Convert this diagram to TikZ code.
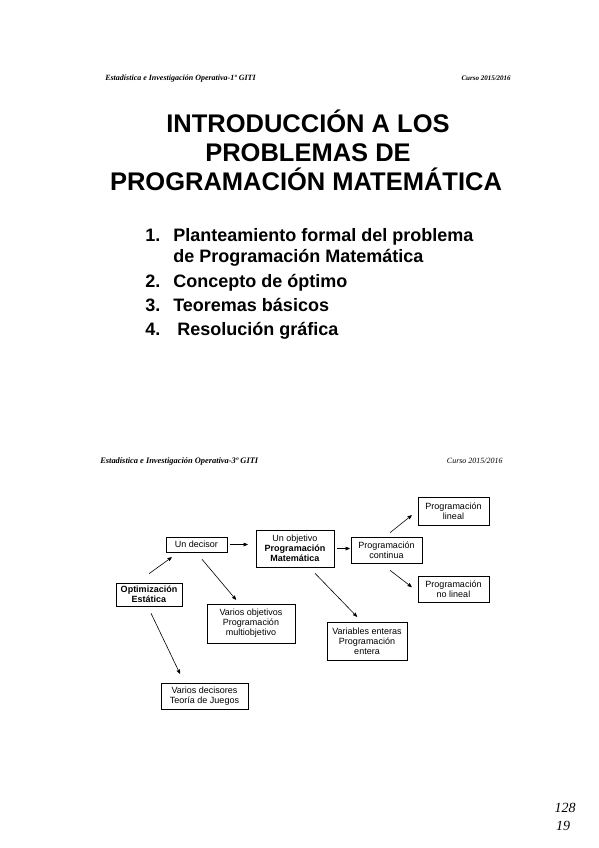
\documentclass[tikz,border=0pt]{standalone}
\usepackage{fontspec}
\setmainfont{Liberation Sans}
\newfontfamily\headfont{Liberation Serif}
\usetikzlibrary{arrows}

\tikzset{
  box/.style={draw, line width=0.6pt, align=center, inner sep=1pt,
    font=\fontsize{9}{10}\selectfont},
  head/.style={inner sep=0pt, font=\headfont\fontsize{8}{9}\selectfont\bfseries\itshape},
  title/.style={inner sep=0pt, anchor=base, font=\fontsize{25.5}{29}\selectfont\bfseries},
  item/.style={inner sep=0pt, anchor=base west, font=\fontsize{18}{20}\selectfont\bfseries}
}

\begin{document}
\begin{tikzpicture}[x=1pt,y=-1pt,>=stealth',line width=0.6pt]
\useasboundingbox[fill=white] (0,0) rectangle (599,848);

% first slide: header, title and contents
  \node[head, anchor=base west] (h1l) at (105,81) {Estadística e Investigación Operativa-1º GITI};
  \node[head, anchor=base east, font=\headfont\fontsize{7}{9}\selectfont\bfseries\itshape] (h1r) at (511,81) {Curso 2015/2016};
  \node[title] (t1) at (308,132) {INTRODUCCIÓN A LOS};
  \node[title] (t2) at (308,161) {PROBLEMAS DE};
  \node[title] (t3) at (306,190) {PROGRAMACIÓN MATEMÁTICA};
  \node[item] (n1) at (145,241) {1.};
  \node[item] (i1) at (173,241) {Planteamiento formal del problema};
  \node[item] (i1b) at (173,262) {de Programación Matemática};
  \node[item] (n2) at (145,287) {2.};
  \node[item] (i2) at (173,287) {Concepto de óptimo};
  \node[item] (n3) at (145,311) {3.};
  \node[item] (i3) at (173,311) {Teoremas básicos};
  \node[item] (n4) at (145,335) {4.};
  \node[item] (i4) at (177,335) {Resolución gráfica};

% second slide: header
  \node[head, anchor=base west, font=\headfont\fontsize{8.4}{9}\selectfont\bfseries\itshape] (h2l) at (100,463) {Estadística e Investigación Operativa-3º GITI};
  \node[head, anchor=base east, font=\headfont\fontsize{8}{9}\selectfont\itshape] (h2r) at (503,463) {Curso 2015/2016};

% define the boxes of the scheme
  \node[box, minimum width=66pt, minimum height=23pt] (opt) at (149,594.5)
{\textbf{Optimización}\\\textbf{Estática}};
  \node[box, minimum width=61pt, minimum height=15pt] (dec) at (196.5,544.5)
{Un decisor};
  \node[box, minimum width=78pt, minimum height=37pt] (obj) at (295,548.5)
{Un objetivo\\\textbf{Programación}\\\textbf{Matemática}};
  \node[box, minimum width=71pt, minimum height=26pt] (cont) at (386.5,550)
{Programación\\continua};
  \node[box, minimum width=71pt, minimum height=28pt] (lin) at (453.5,511)
{Programación\\lineal};
  \node[box, minimum width=71pt, minimum height=26pt] (nolin) at (453.5,589)
{Programación\\no lineal};
  \node[box, minimum width=88pt, minimum height=39pt] (varobj) at (251,623.5)
{Varios objetivos\\Programación\\multiobjetivo};
  \node[box, minimum width=80pt, minimum height=38pt] (varent) at (367,641)
{Variables enteras\\Programación\\entera};
  \node[box, minimum width=87pt, minimum height=26pt] (vardec) at (204.5,696)
{Varios decisores\\Teoría de Juegos};

% define the links
  \path[->] ([yshift=9pt]opt.north) edge ([xshift=6pt,yshift=-5pt]dec.south west)
        ([xshift=2pt,yshift=-7pt]opt.south) edge ([xshift=-24.5pt,yshift=9pt]vardec.north)
        ([xshift=5.5pt,yshift=-7pt]dec.south) edge ([xshift=-15pt,yshift=4pt]varobj.north)
        ([xshift=20pt,yshift=-6pt]obj.south) edge ([xshift=-10pt,yshift=5pt]varent.north)
        ([xshift=3.5pt,yshift=4pt]cont.north) edge ([xshift=-6pt,yshift=10pt]lin.south west)
        ([xshift=3.5pt,yshift=-7pt]cont.south) edge ([xshift=-6pt,yshift=2pt]nolin.west);
  \draw[->, shorten <=3pt, shorten >=8pt] (dec.east) -- (dec.east -| obj.west);
  \draw[->, shorten <=3pt, shorten >=1pt] (obj.east) -- (obj.east -| cont.west);

% handwritten page numbers
  \node[inner sep=0pt, font=\headfont\fontsize{14}{14}\selectfont\itshape] (p1) at (565,808) {128};
  \node[inner sep=0pt, font=\headfont\fontsize{14}{14}\selectfont\itshape] (p2) at (563,826) {19};
\end{tikzpicture}
\end{document}
